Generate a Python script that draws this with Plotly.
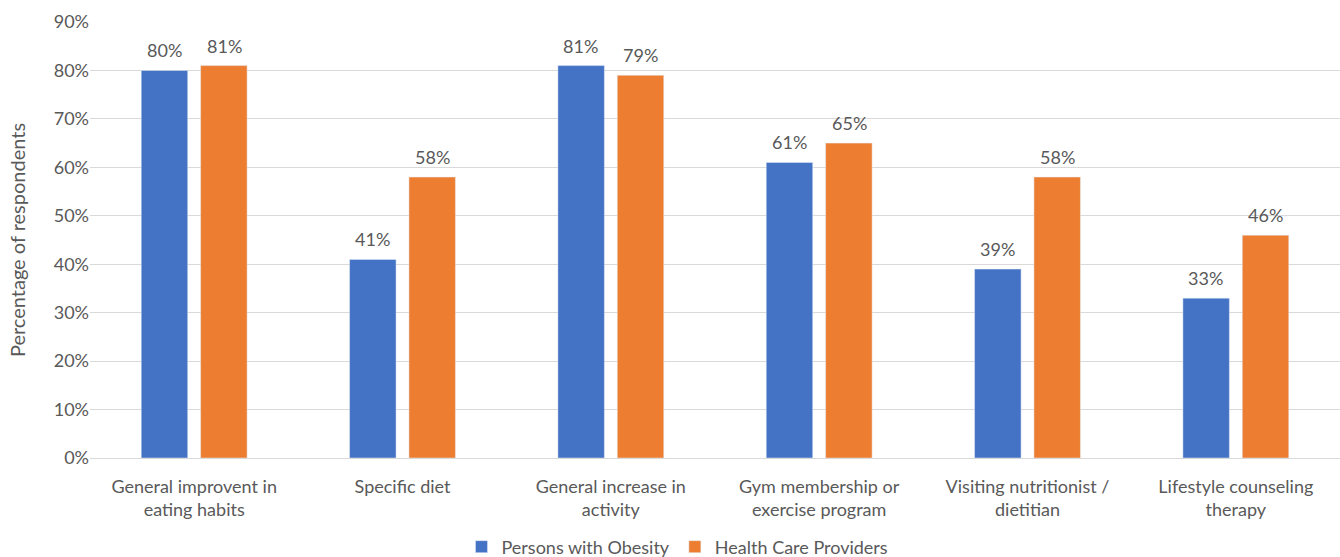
import plotly.graph_objects as go

categories = ["General improvent in<br>eating habits", "Specific diet", "General increase in<br>activity",
              "Gym membership or<br>exercise program", "Visiting nutritionist /<br>dietitian",
              "Lifestyle counseling<br>therapy"]
obesity = [80, 41, 81, 61, 39, 33]
providers = [81, 58, 79, 65, 58, 46]
tick_vals = [0, 10, 20, 30, 40, 50, 60, 70, 80, 90]
tick_text = ["0%", "10%", "20%", "30%", "40%", "50%", "60%", "70%", "80%", "90%"]

FONT = "Lato"
GREY = "#595959"
FS = 18

fig = go.Figure()
fig.add_trace(go.Bar(name="Persons with Obesity", x=categories, y=obesity, marker_color="#4472C4"))
fig.add_trace(go.Bar(name="Health Care Providers", x=categories, y=providers, marker_color="#ED7D31"))

for vals, shift in ((obesity, -30), (providers, 30)):
    for c, v in zip(categories, vals):
        fig.add_annotation(x=c, y=v, text=f"{v}%", showarrow=False, xshift=shift, yshift=20,
                           font=dict(size=FS, color=GREY, family=FONT))

fig.update_layout(
    width=1340, height=557,
    margin=dict(l=90, r=0, t=22, b=99, autoexpand=False),
    paper_bgcolor="white", plot_bgcolor="white",
    font=dict(family=FONT, size=FS, color=GREY),
    barmode="group", bargap=0.43, bargroupgap=0.217,
    showlegend=True,
    legend=dict(orientation="h", x=0.47, xanchor="center", yref="paper", y=-0.204, yanchor="middle",
                font=dict(size=FS, color=GREY, family=FONT), itemwidth=30, traceorder="normal"),
    yaxis=dict(range=[0, 90], tickvals=tick_vals, ticktext=tick_text, showgrid=True,
               gridcolor="#D9D9D9", gridwidth=1, zeroline=False, showline=False,
               ticks="", tickfont=dict(size=FS, color=GREY), automargin=False,
               title=dict(text="Percentage of respondents", font=dict(size=20, color=GREY), standoff=22)),
    xaxis=dict(showline=True, linecolor="#D9D9D9", linewidth=1, ticks="", automargin=False,
               ticklabelstandoff=12, tickfont=dict(size=FS, color=GREY)),
)

fig.write_html("out.html")
